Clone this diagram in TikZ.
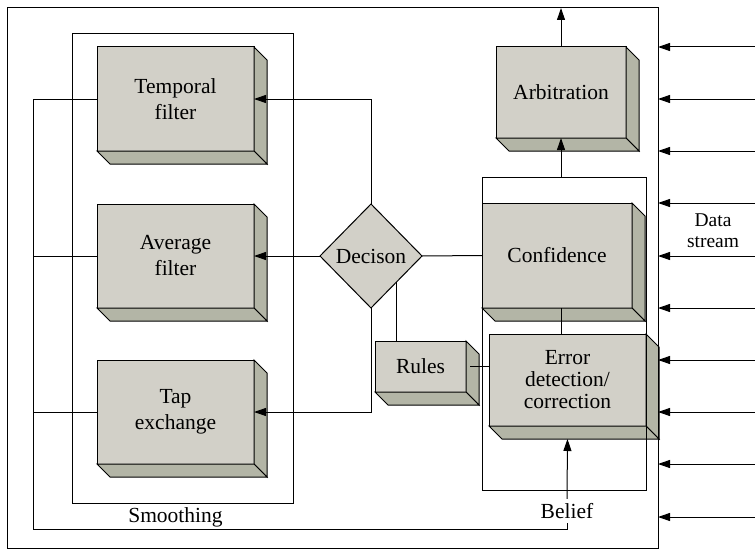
\documentclass[tikz,border=0pt]{standalone}
\usepackage{fontspec}
\setmainfont{Liberation Serif}
\usetikzlibrary{shapes.geometric,arrows.meta,calc}
\definecolor{facec}{RGB}{210,208,200}
\definecolor{sidec}{RGB}{179,181,166}
\newcommand\depthfaces[1]{%
  \filldraw[fill=sidec] (#1.north east) -- ++(13,13) -- ($(#1.south east)+(13,13)$) -- (#1.south east) -- cycle;
  \filldraw[fill=sidec] (#1.south west) -- ++(13,13) -- ($(#1.south east)+(13,13)$) -- (#1.south east) -- cycle;}
\begin{document}
\begin{tikzpicture}[x=1pt,y=-1pt,line width=1pt,
  font=\fontsize{21.5}{26}\selectfont,
  face/.style={draw, fill=facec, rectangle, inner sep=0pt, outer sep=0pt, align=center},
  frame/.style={draw, rectangle, inner sep=0pt, outer sep=0pt},
  arr/.style={-{Triangle[length=12pt,width=8pt]}}]
\useasboundingbox (0,0) rectangle (755,551);
% boxes
\node[face, minimum width=157pt, minimum height=104pt] (temp) at (175.5,99) {Temporal\\filter};
\depthfaces{temp}
\node[face, minimum width=157pt, minimum height=104pt] (avg) at (175.5,256) {Average\\filter};
\depthfaces{avg}
\node[face, minimum width=157pt, minimum height=104pt] (tap) at (175.5,412) {Tap\\exchange};
\depthfaces{tap}
\node[face, minimum width=130pt, minimum height=91pt] (arb) at (561,92.5) {Arbitration};
\depthfaces{arb}
\node[face, minimum width=150pt, minimum height=105pt] (conf) at (557,255.5) {Confidence};
\depthfaces{conf}
\node[face, minimum width=157pt, minimum height=92pt, font=\fontsize{21.5}{22}\selectfont] (err) at (567.5,380) {Error\\detection/\\correction};
\depthfaces{err}
\node[face, minimum width=91pt, minimum height=51pt] (rules) at (420.5,366.5) {Rules};
\depthfaces{rules}
\node[diamond, draw, fill=facec, inner sep=0pt, outer sep=0pt, minimum width=102pt, minimum height=104pt] (dec) at (371,256) {Decison};
% containers
\node[frame, minimum width=651pt, minimum height=540pt] (outer) at (332.5,278) {};
\node[frame, minimum width=221pt, minimum height=469pt] (smooth) at (182.5,268.5) {};
\node[frame, minimum width=164pt, minimum height=313pt] (cont) at (564,333.5) {};
% labels
\node (smlabel) at (175.5,517) {Smoothing};
\node[inner sep=4pt] (belief) at (567,511) {Belief};
\node[font=\fontsize{19.5}{21}\selectfont, align=center] (ds) at (713,231) {Data\\stream};
% connectors
\draw[arr] (dec.north) |- (temp.east);
\draw[arr] (dec.west) -- (avg.east);
\draw[arr] (dec.south) |- (tap.east);
\draw (dec.east) -- (conf.west);
\draw (dec.south east) -- (dec.south east |- rules.north);
\draw ([xshift=4pt]rules.east) -- (rules.east -| err.west);
\draw ([xshift=4pt]conf.south) -- ([xshift=4pt]conf.south |- err.north);
\draw[arr] (cont.north -| arb.south) -- (arb.south);
\draw[arr] (arb.north) -- (arb.north |- outer.north);
\draw[arr] (belief.north) -- ($(err.south)+(0,13)$);
\coordinate (lc) at (33,529);
\draw (belief.south) |- (lc) |- (temp.west);
\draw (avg.west -| lc) -- (avg.west);
\draw (tap.west -| lc) -- (tap.west);
\foreach \yy [count=\i] in {47,99,151,203,256,308,360,412,464,517} {
  \coordinate (in\i) at (755,\yy);
  \draw[arr] (in\i) -- (in\i -| outer.east);
}
\end{tikzpicture}
\end{document}
